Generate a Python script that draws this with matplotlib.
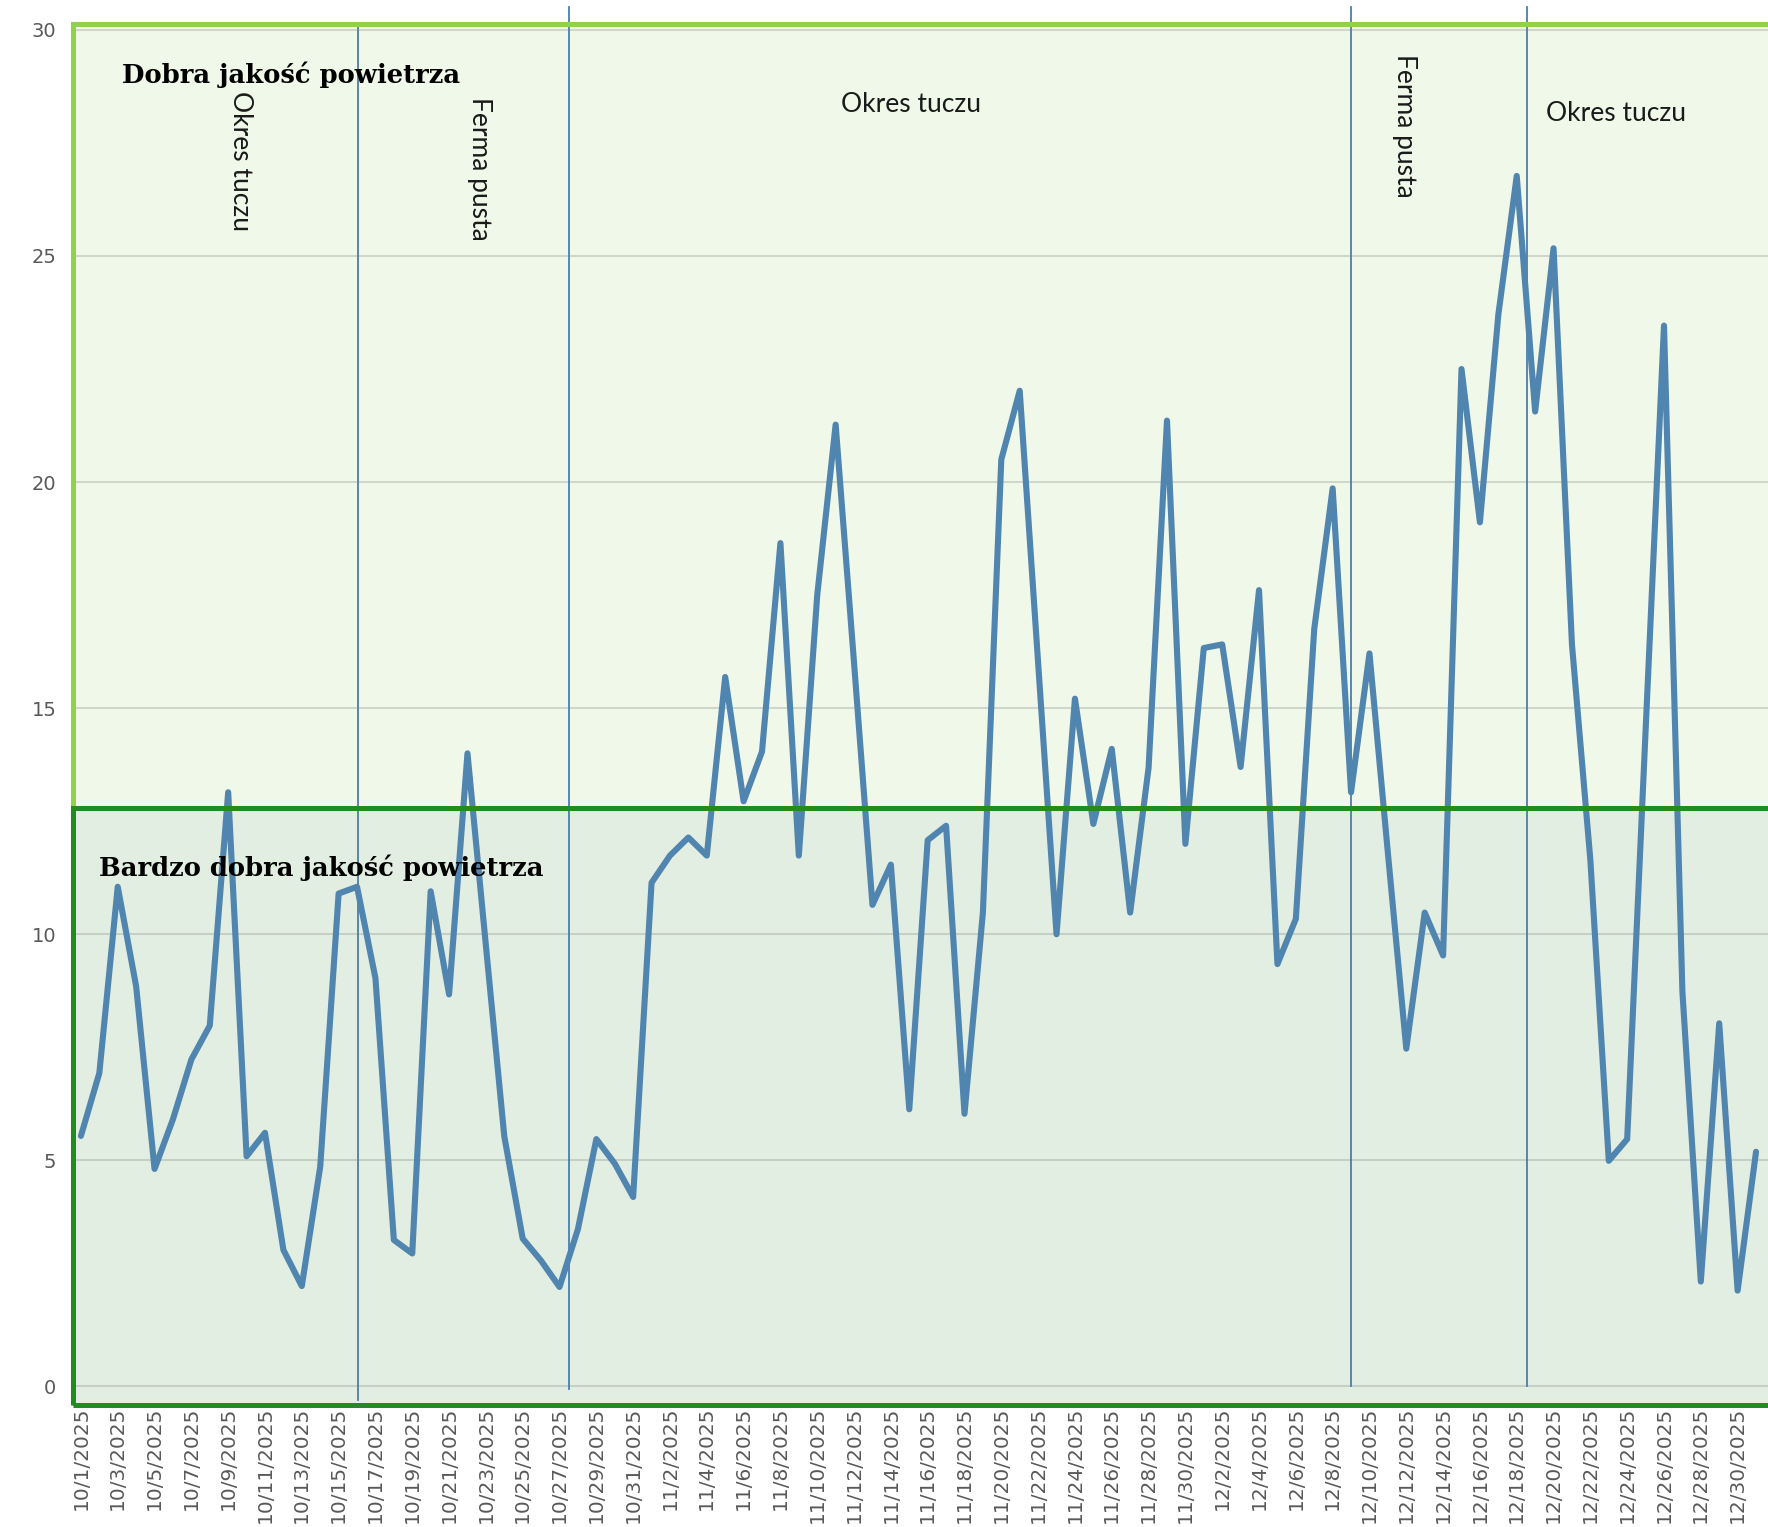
import matplotlib
matplotlib.use("Agg")
import matplotlib.pyplot as plt
from matplotlib.patches import Rectangle
import numpy as np
import pandas as pd

# Daily readings, 1 Oct - 31 Dec 2025
dates = pd.date_range("2025-10-01", "2025-12-31", freq="D")
values = [
    5.54, 6.93, 11.05, 8.85, 4.81, 5.91, 7.23, 7.98, 13.14, 5.09,
    5.61, 3.02, 2.22, 4.86, 10.90, 11.05, 9.03, 3.24, 2.94, 10.95,
    8.67, 14.00, 9.75, 5.53, 3.27, 2.78, 2.20, 3.48, 5.47, 4.93,
    4.19, 11.14, 11.74, 12.14, 11.74, 15.69, 12.94, 14.04, 18.65, 11.74,
    17.50, 21.27, 16.00, 10.65, 11.54, 6.13, 12.08, 12.40, 6.03, 10.48,
    20.50, 22.02, 16.00, 10.00, 15.21, 12.44, 14.10, 10.48, 13.68, 21.36,
    12.00, 16.33, 16.41, 13.70, 17.61, 9.34, 10.34, 16.75, 19.86, 13.14,
    16.21, 11.80, 7.47, 10.48, 9.53, 22.50, 19.11, 23.70, 26.77, 21.56,
    25.17, 16.41, 11.64, 4.99, 5.47, 14.50, 23.46, 8.73, 2.32, 8.03,
    2.12, 5.19,
]

# Air-quality bands
very_good_limit = 12.8
good_limit = 30.13
band_names = ["Bardzo dobra jakość powietrza", "Dobra jakość powietrza"]

# Farm-period boundaries (day index) and their labels
boundaries = [15.04, 26.54, 69.0, 78.58]
boundary_spans = [(-0.30, 30.06), (-0.06, 30.50), (0.0, 30.50), (0.0, 30.50)]
period_labels = ["Okres tuczu", "Ferma pusta", "Okres tuczu", "Ferma pusta", "Okres tuczu"]

x = np.arange(len(values))
tick_idx = x[::2]
tick_labels = [f"{d.month}/{d.day}/{d.year}" for d in dates[::2]]

W, H = 1768, 1527
fig = plt.figure(figsize=(W / 100, H / 100), dpi=100)
ax = fig.add_axes([73 / W, 1 - 1405 / H, (W - 73) / W, (1405 - 5) / H])
ax.set_xlim(-0.43, 91.65)
ax.set_ylim(-0.41, 30.55)

top_fill, top_edge = "#f0f8e9", "#92d050"
low_fill, low_edge = "#e3eee2", "#228b22"

# band fills
ax.add_patch(Rectangle((-0.43, very_good_limit), 100, good_limit - very_good_limit,
                       facecolor=top_fill, edgecolor="none", zorder=0, clip_on=False))
ax.add_patch(Rectangle((-0.43, -0.41), 100, very_good_limit + 0.41,
                       facecolor=low_fill, edgecolor="none", zorder=0.1, clip_on=False))

# grid
ax.set_yticks(range(0, 31, 5))
ax.yaxis.grid(True, color="black", alpha=0.13, lw=1.5)
ax.set_axisbelow(True)

# period boundaries
for bx, (y0, y1) in zip(boundaries, boundary_spans):
    ax.plot([bx, bx], [y0, y1], color="#4a7eb0", lw=1.3, zorder=1, clip_on=False)

# data line
ax.plot(x, values, color="#5085af", lw=4.4, solid_joinstyle="round",
        solid_capstyle="round", zorder=2)

# band borders
ax.add_patch(Rectangle((-0.43, very_good_limit), 100, good_limit - very_good_limit,
                       facecolor="none", edgecolor=top_edge, lw=3.6, zorder=3, clip_on=False))
ax.add_patch(Rectangle((-0.43, -0.41), 100, very_good_limit + 0.41,
                       facecolor="none", edgecolor=low_edge, lw=3.6, zorder=3.1, clip_on=False))

# band names
serif = dict(family="DejaVu Serif", weight="bold", fontsize=18.6, color="black", zorder=4)
ax.text(2.23, 29.0, band_names[1], ha="left", va="center", **serif)
ax.text(0.98, 11.48, band_names[0], ha="left", va="center", **serif)

# period labels
lab = dict(family="Lato", fontsize=19, color="#1a1a1a", zorder=4)
ax.text(8.65, 28.65, period_labels[0], rotation=-90, ha="center", va="top", **lab)
ax.text(21.64, 28.52, period_labels[1], rotation=-90, ha="center", va="top", **lab)
ax.text(41.3, 28.34, period_labels[2], ha="left", va="center", **lab)
ax.text(71.9, 29.47, period_labels[3], rotation=-90, ha="center", va="top", **lab)
ax.text(79.6, 28.16, period_labels[4], ha="left", va="center", **lab)

# axes styling
for s in ax.spines.values():
    s.set_visible(False)
ax.set_xticks(tick_idx)
ax.set_xticklabels(tick_labels, rotation=90, va="top", ha="center")
ax.tick_params(axis="x", length=0, pad=1, labelsize=14.5, labelcolor="#595959")
ax.tick_params(axis="y", length=0, pad=12, labelsize=14, labelcolor="#595959")

fig.savefig("out.png", dpi=100)
